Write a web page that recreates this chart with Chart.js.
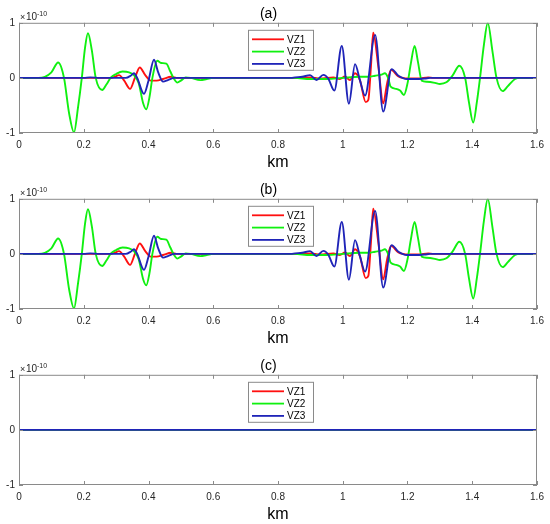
<!DOCTYPE html>
<html>
<head>
<meta charset="utf-8">
<script src="https://cdn.jsdelivr.net/npm/chart.js@4"></script>
<style>
  html, body { margin: 0; padding: 0; background: #fff; }
  .panel { position: relative; width: 550px; }
</style>
</head>
<body>
<div class="panel" style="height:176px"><canvas id="chartA"></canvas></div>
<div class="panel" style="height:176px"><canvas id="chartB"></canvas></div>
<div class="panel" style="height:172px"><canvas id="chartC"></canvas></div>
<script>
// values, amplitude in units of 1e-10
const seriesNames = ["VZ1", "VZ2", "VZ3"];
const panelTitles = ["(a)", "(b)", "(c)"];
const kmTicks = [0, 0.2, 0.4, 0.6, 0.8, 1, 1.2, 1.4, 1.6];
const ampTicks = [-1, 0, 1];
const ampExponent = "-10";

const vz1Km = [0, 0.28, 0.295, 0.309, 0.325, 0.343, 0.358, 0.373, 0.39, 0.407,
  0.425, 0.445, 0.47, 0.49, 0.85, 0.9, 0.93, 0.971, 0.991, 1.007,
  1.022, 1.038, 1.053, 1.071, 1.079, 1.087, 1.094, 1.11, 1.125, 1.137,
  1.149, 1.172, 1.203, 1.233, 1.264, 1.28, 1.6];
const vz1A = [0, 0, 0.02, 0.05, -0.05, -0.2, 0.0, 0.19, 0.05, -0.05,
  -0.05, -0.02, 0.02, 0, 0, 0.01, -0.01, 0.01, -0.02, 0.025,
  -0.04, 0.085, -0.04, -0.44, -0.4, 0.2, 0.82, 0.2, -0.46, -0.1,
  0.145, 0.025, -0.01, -0.01, 0.01, 0, 0];

const vz2Km = [0, 0.06, 0.08, 0.1, 0.121, 0.139, 0.155, 0.17, 0.182, 0.194,
  0.204, 0.213, 0.225, 0.237, 0.257, 0.27, 0.283, 0.3, 0.32, 0.34,
  0.355, 0.37, 0.383, 0.393, 0.403, 0.412, 0.427, 0.44, 0.455, 0.467,
  0.479, 0.489, 0.5, 0.515, 0.53, 0.56, 0.58, 0.6, 0.85, 0.9,
  0.95, 1.0, 1.05, 1.08, 1.1, 1.12, 1.13, 1.14, 1.148, 1.165,
  1.177, 1.189, 1.2, 1.21, 1.222, 1.232, 1.244, 1.26, 1.285, 1.3,
  1.32, 1.34, 1.36, 1.378, 1.39, 1.403, 1.414, 1.424, 1.436, 1.448,
  1.462, 1.475, 1.494, 1.51, 1.532, 1.55, 1.6];
const vz2A = [0, 0, 0.02, 0.1, 0.28, 0.0, -0.65, -0.99, -0.55, 0,
  0.55, 0.81, 0.5, 0.0, -0.22, -0.12, 0.0, 0.07, 0.115, 0.1,
  0.05, -0.1, -0.45, -0.57, -0.35, 0.0, 0.31, 0.27, 0.26, 0.12,
  -0.02, -0.085, -0.05, 0.01, 0.0, -0.04, -0.02, 0, 0, -0.02,
  -0.02, 0, 0.02, 0.02, 0.04, 0.06, 0.085, 0.0, -0.16, -0.2,
  -0.23, -0.31, -0.1, 0.25, 0.58, 0.3, -0.05, -0.07, -0.09, -0.11,
  -0.08, 0.05, 0.22, 0.0, -0.45, -0.81, -0.45, 0.0, 0.6, 1.0,
  0.5, 0.0, -0.24, -0.15, -0.02, 0, 0];

const vz3Km = [0, 0.2, 0.22, 0.25, 0.33, 0.345, 0.355, 0.365, 0.386, 0.4,
  0.417, 0.43, 0.445, 0.46, 0.48, 0.84, 0.853, 0.875, 0.899, 0.919,
  0.94, 0.955, 0.974, 0.997, 1.019, 1.038, 1.053, 1.069, 1.1, 1.125,
  1.151, 1.172, 1.198, 1.223, 1.254, 1.27, 1.6];
const vz3A = [0, 0, 0.01, 0, 0, 0.04, 0.085, 0.0, -0.29, -0.05,
  0.33, 0.1, -0.067, -0.04, 0, 0, 0.01, 0.02, 0.05, -0.04,
  0.055, -0.01, -0.23, 0.58, -0.47, 0.25, -0.04, -0.32, 0.78, -0.61,
  0.16, 0.04, -0.02, -0.02, -0.01, 0, 0];

// panel (b) reads the same as (a)
const vz1B = vz1A, vz2B = vz2A, vz3B = vz3A;

// panel (c) is flat zero for all three
const flatKm = [0, 0.4, 0.8, 1.2, 1.6];
const flatC = [0, 0, 0, 0, 0];

const lineColors = ["#ff1010", "#10f010", "#1f24b8"];
const fontFamily = "'Liberation Sans', Arial, sans-serif";

function pairs(xs, ys) {
  return xs.map((x, i) => ({ x: x, y: ys[i] }));
}

// box, inner ticks, exponent label and legend the way MATLAB draws them
const matlabAxes = {
  id: "matlabAxes",
  afterDatasetsDraw(chart) {
    const ctx = chart.ctx;
    const a = chart.chartArea;
    const xs = chart.scales.x, ys = chart.scales.y;
    ctx.save();
    ctx.strokeStyle = "#8a8a8a";
    ctx.lineWidth = 1;
    ctx.strokeRect(a.left + 0.5, a.top + 0.5, a.right - a.left - 1, a.bottom - a.top - 1);
    ctx.beginPath();
    xs.ticks.forEach(t => {
      const px = Math.round(xs.getPixelForValue(t.value)) + 0.5;
      ctx.moveTo(px, a.bottom); ctx.lineTo(px, a.bottom - 4);
      ctx.moveTo(px, a.top); ctx.lineTo(px, a.top + 4);
    });
    ys.ticks.forEach(t => {
      const py = Math.round(ys.getPixelForValue(t.value)) + 0.5;
      ctx.moveTo(a.left, py); ctx.lineTo(a.left + 4, py);
      ctx.moveTo(a.right, py); ctx.lineTo(a.right - 4, py);
    });
    ctx.stroke();

    // x10^-10 above the y axis
    ctx.fillStyle = "#262626";
    ctx.textBaseline = "alphabetic";
    ctx.textAlign = "left";
    ctx.font = "9px " + fontFamily;
    ctx.fillText("\u00d7", a.left + 1, a.top - 3);
    ctx.font = "10px " + fontFamily;
    ctx.fillText("10", a.left + 7, a.top - 3);
    ctx.font = "7px " + fontFamily;
    ctx.fillText(ampExponent, a.left + 18, a.top - 7);

    // legend box
    const bx = a.left + 229, by = a.top + 7, bw = 65, bh = 40;
    ctx.fillStyle = "#fff";
    ctx.fillRect(bx, by, bw, bh);
    ctx.strokeStyle = "#8a8a8a";
    ctx.lineWidth = 1;
    ctx.strokeRect(bx + 0.5, by + 0.5, bw, bh);
    ctx.font = "10px " + fontFamily;
    ctx.textBaseline = "middle";
    chart.data.datasets.forEach((ds, i) => {
      const ly = by + 9.5 + i * 12.3;
      ctx.strokeStyle = ds.borderColor;
      ctx.lineWidth = 1.8;
      ctx.beginPath();
      ctx.moveTo(bx + 4, ly); ctx.lineTo(bx + 36, ly);
      ctx.stroke();
      ctx.fillStyle = "#000";
      ctx.fillText(ds.label, bx + 39, ly + 0.5);
    });
    ctx.restore();
  }
};

function makePanel(canvasId, title, seriesX, seriesY, bottomSpace) {
  const datasets = seriesNames.map((name, i) => ({
    label: name,
    data: pairs(seriesX[i], seriesY[i]),
    borderColor: lineColors[i],
    borderWidth: 1.9,
    pointRadius: 0,
    fill: false,
    cubicInterpolationMode: "monotone",
    order: 3 - i
  }));

  new Chart(document.getElementById(canvasId), {
    type: "line",
    data: { datasets: datasets },
    options: {
      responsive: true,
      maintainAspectRatio: false,
      animation: false,
      layout: { padding: { left: 0, right: 13, top: 0, bottom: 0 } },
      plugins: {
        legend: { display: false },
        tooltip: { enabled: false },
        title: {
          display: true,
          text: title,
          color: "#000",
          font: { family: fontFamily, size: 14, weight: "normal" },
          padding: { top: 6, bottom: 0 }
        }
      },
      scales: {
        x: {
          type: "linear",
          min: 0,
          max: 1.6,
          grid: { display: false, drawTicks: false },
          border: { display: false },
          afterBuildTicks: scale => { scale.ticks = kmTicks.map(v => ({ value: v })); },
          afterFit: scale => { scale.height = bottomSpace; },
          ticks: {
            color: "#262626",
            font: { family: fontFamily, size: 10 },
            padding: 6,
            maxRotation: 0,
            autoSkip: false,
            callback: v => String(Number(v.toFixed(1)))
          },
          title: {
            display: true,
            text: "km",
            color: "#000",
            font: { family: fontFamily, size: 16 },
            padding: { top: 0, bottom: bottomSpace - 39 }
          }
        },
        y: {
          min: -1,
          max: 1,
          grid: { display: false, drawTicks: false },
          border: { display: false },
          afterBuildTicks: scale => { scale.ticks = ampTicks.map(v => ({ value: v })); },
          afterFit: scale => { scale.width = 19; },
          ticks: {
            color: "#262626",
            font: { family: fontFamily, size: 10 },
            padding: 4,
            callback: v => String(v)
          }
        }
      }
    },
    plugins: [matlabAxes]
  });
}

makePanel("chartA", panelTitles[0], [vz1Km, vz2Km, vz3Km], [vz1A, vz2A, vz3A], 43);
makePanel("chartB", panelTitles[1], [vz1Km, vz2Km, vz3Km], [vz1B, vz2B, vz3B], 43);
makePanel("chartC", panelTitles[2], [flatKm, flatKm, flatKm], [flatC, flatC, flatC], 39);
</script>
</body>
</html>
